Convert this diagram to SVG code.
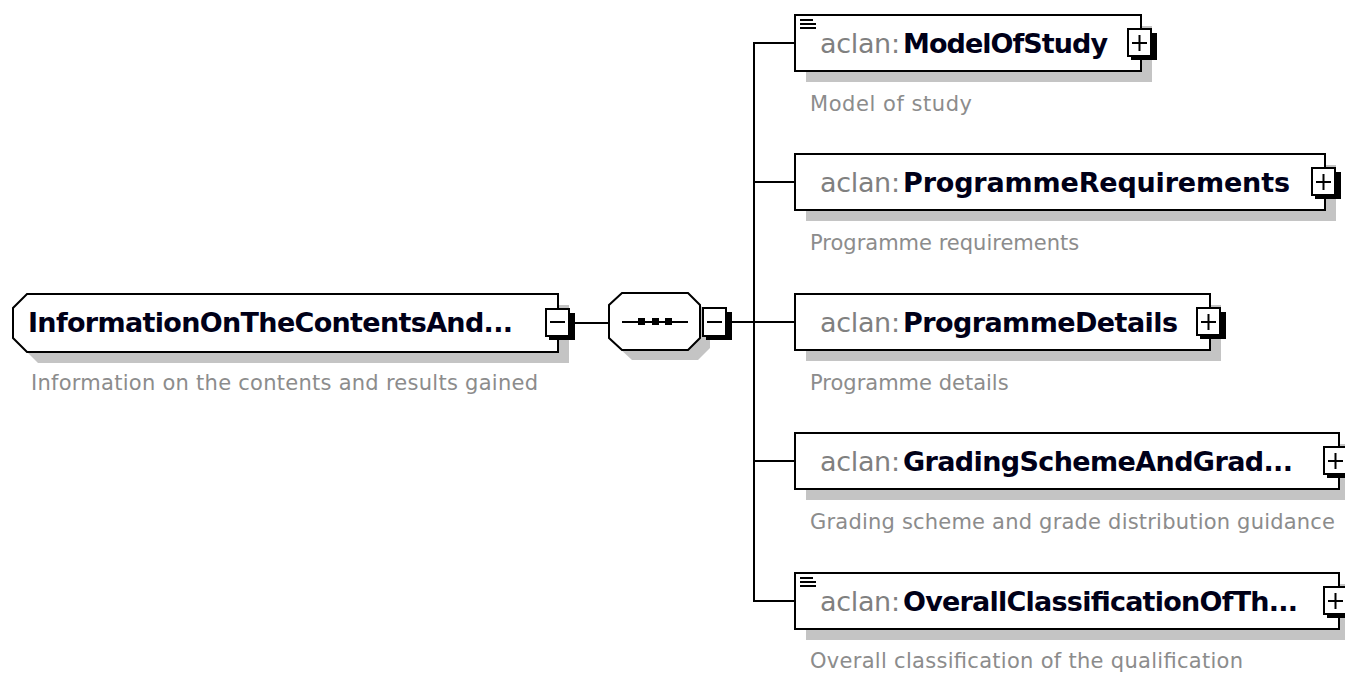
<svg xmlns="http://www.w3.org/2000/svg" width="1345" height="676" viewBox="0 0 1345 676">
<style>
.shadow{fill:#c4c4c4;stroke:none}
.box{fill:#fff;stroke:#000;stroke-width:2}
.conn{fill:none;stroke:#000;stroke-width:2}
.btn{fill:#fff;stroke:#000;stroke-width:2}
.btnsh{fill:#000}
.sign{stroke:#000;stroke-width:2;fill:none}
.name{font-family:"DejaVu Sans","Liberation Sans",sans-serif;font-weight:bold;font-size:27px;fill:#000018}
.pre{font-family:"DejaVu Sans","Liberation Sans",sans-serif;font-size:27px;fill:#808080}
.desc{font-family:"DejaVu Sans","Liberation Sans",sans-serif;font-size:21px;fill:#8c8c8c}
.doc{stroke:#000;stroke-width:2}
</style>
<rect width="1345" height="676" fill="#fff"/>
<g id="connectors">
<line class="conn" x1="575" y1="323" x2="609" y2="323"/>
<line class="conn" x1="732" y1="322" x2="795" y2="322"/>
<polyline class="conn" points="795,43 754,43 754,601 795,601"/>
<line class="conn" x1="754" y1="182" x2="795" y2="182"/>
<line class="conn" x1="754" y1="461" x2="795" y2="461"/>
</g>
<g id="root">
<polygon class="shadow" points="38,305 569,305 569,363 38,363 24,349 24,319"/>
<polygon class="box" points="27,294 558,294 558,352 27,352 13,338 13,308"/>
<text class="name" x="28" y="332" textLength="485">InformationOnTheContentsAnd...</text>
<rect class="btnsh" x="549" y="313" width="26" height="27"/>
<rect class="btn" x="546" y="309" width="23" height="27"/>
<line class="sign" x1="550" y1="322" x2="565" y2="322"/>
<text class="desc" x="31" y="390" textLength="507">Information on the contents and results gained</text>
</g>
<g id="sequence">
<polygon class="shadow" points="632,303 698,303 710,315 710,348 698,360 632,360 619,348 619,315"/>
<polygon class="box" points="622,293 688,293 700,305 700,338 688,350 622,350 609,338 609,305"/>
<line class="sign" x1="622" y1="322" x2="688" y2="322"/>
<rect x="638" y="318" width="7" height="7" fill="#000"/>
<rect x="652" y="318" width="7" height="7" fill="#000"/>
<rect x="665" y="318" width="7" height="7" fill="#000"/>
<rect class="btnsh" x="706" y="312" width="26" height="28"/>
<rect class="btn" x="703" y="308" width="23" height="28"/>
<line class="sign" x1="707" y1="322" x2="722" y2="322"/>
</g>
<g id="child1">
<rect class="shadow" x="806" y="26" width="346" height="56"/>
<rect class="box" x="795" y="15" width="346" height="56"/>
<line class="doc" x1="800" y1="20" x2="813" y2="20"/>
<line class="doc" x1="800" y1="24" x2="816" y2="24"/>
<line class="doc" x1="800" y1="28" x2="816" y2="28"/>
<text class="pre" x="820" y="53" textLength="80">aclan:</text>
<text class="name" x="903" y="53" textLength="205">ModelOfStudy</text>
<rect class="btnsh" x="1131" y="33" width="26" height="27"/>
<rect class="btn" x="1128" y="29" width="23" height="27"/>
<line class="sign" x1="1132" y1="43" x2="1147" y2="43"/>
<line class="sign" x1="1139.5" y1="35" x2="1139.5" y2="51"/>
<text class="desc" x="810" y="111" textLength="162">Model of study</text>
</g>
<g id="child2">
<rect class="shadow" x="806" y="165" width="530" height="56"/>
<rect class="box" x="795" y="154" width="530" height="56"/>
<text class="pre" x="820" y="192" textLength="80">aclan:</text>
<text class="name" x="903" y="192" textLength="387">ProgrammeRequirements</text>
<rect class="btnsh" x="1315" y="172" width="26" height="27"/>
<rect class="btn" x="1312" y="168" width="23" height="27"/>
<line class="sign" x1="1316" y1="182" x2="1331" y2="182"/>
<line class="sign" x1="1323.5" y1="174" x2="1323.5" y2="190"/>
<text class="desc" x="810" y="250">Programme requirements</text>
</g>
<g id="child3">
<rect class="shadow" x="806" y="305" width="415" height="56"/>
<rect class="box" x="795" y="294" width="415" height="56"/>
<text class="pre" x="820" y="332" textLength="80">aclan:</text>
<text class="name" x="903" y="332" textLength="275">ProgrammeDetails</text>
<rect class="btnsh" x="1200" y="312" width="26" height="27"/>
<rect class="btn" x="1197" y="308" width="23" height="27"/>
<line class="sign" x1="1201" y1="322" x2="1216" y2="322"/>
<line class="sign" x1="1208.5" y1="314" x2="1208.5" y2="330"/>
<text class="desc" x="810" y="390">Programme details</text>
</g>
<g id="child4">
<rect class="shadow" x="806" y="444" width="544" height="56"/>
<rect class="box" x="795" y="433" width="544" height="56"/>
<text class="pre" x="820" y="471" textLength="80">aclan:</text>
<text class="name" x="903" y="471" textLength="390">GradingSchemeAndGrad...</text>
<rect class="btnsh" x="1327" y="451" width="26" height="27"/>
<rect class="btn" x="1324" y="447" width="23" height="27"/>
<line class="sign" x1="1328" y1="461" x2="1343" y2="461"/>
<line class="sign" x1="1335.5" y1="453" x2="1335.5" y2="469"/>
<text class="desc" x="810" y="529" textLength="525">Grading scheme and grade distribution guidance</text>
</g>
<g id="child5">
<rect class="shadow" x="806" y="584" width="544" height="56"/>
<rect class="box" x="795" y="573" width="544" height="56"/>
<line class="doc" x1="800" y1="578" x2="813" y2="578"/>
<line class="doc" x1="800" y1="582" x2="816" y2="582"/>
<line class="doc" x1="800" y1="586" x2="816" y2="586"/>
<text class="pre" x="820" y="611" textLength="80">aclan:</text>
<text class="name" x="903" y="611" textLength="395">OverallClassificationOfTh...</text>
<rect class="btnsh" x="1327" y="591" width="26" height="27"/>
<rect class="btn" x="1324" y="587" width="23" height="27"/>
<line class="sign" x1="1328" y1="601" x2="1343" y2="601"/>
<line class="sign" x1="1335.5" y1="593" x2="1335.5" y2="609"/>
<text class="desc" x="810" y="668" textLength="433">Overall classification of the qualification</text>
</g>
</svg>
